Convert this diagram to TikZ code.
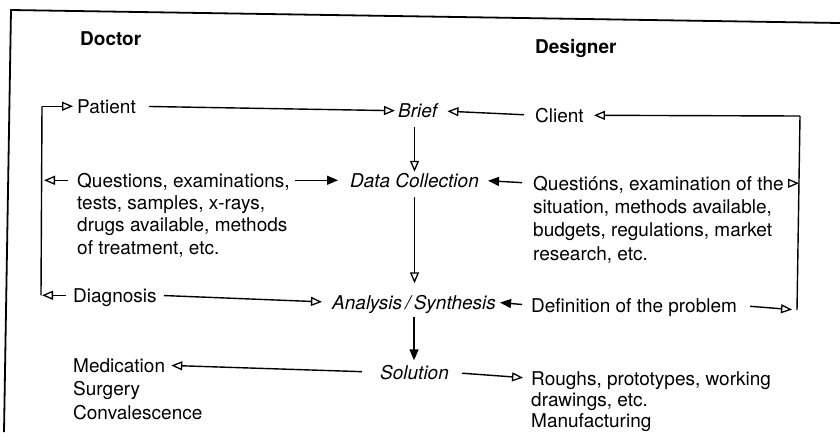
\documentclass[tikz,border=0pt]{standalone}
\usepackage{fontspec}
\setmainfont{TeX Gyre Heros}
\usetikzlibrary{arrows.meta}
\begin{document}
\begin{tikzpicture}[x=1pt,y=-1pt,
  tb/.style={anchor=base west,inner sep=0pt,font=\fontsize{19}{23}\selectfont},
  txt/.style={tb,text height=13.5pt,text depth=0pt},
  itx/.style={txt,font=\fontsize{19}{23}\selectfont\itshape},
  hdr/.style={txt,font=\fontsize{19}{23}\selectfont\bfseries},
  conn/.style={line width=1.4pt},
  oarr/.style={conn,-{Triangle[open,length=11pt,width=9pt,line width=1.3pt]}},
  farr/.style={conn,-{Triangle[length=11pt,width=9pt]}},
  framel/.style={line width=1.8pt}]
\useasboundingbox (0,0) rectangle (840,432);
% frame
\draw[framel] (840,23) -- (11,10) -- (4,432);
% headers
\node[hdr] (doctor) at (80,45) {Doctor};
\node[hdr] (designer) at (535,53) {Designer};
% left column
\node[txt] (patient) at (77,113) {Patient};
\node[txt] (dq1) at (77,187) {Questions, examinations,};
\node[tb,align=left,font=\fontsize{19}{22.5}\selectfont] (dq2) at (77,254) {tests, samples, x-rays,\\drugs available, methods\\of treatment, etc.};
\node[txt] (diagnosis) at (73,302) {Diagnosis};
\node[txt] (med1) at (73,372) {Medication};
\node[tb,align=left,font=\fontsize{19}{24}\selectfont] (med2) at (73,419) {Surgery\\Convalescence};
% centre column
\node[itx] (brief) at (398,117.5) {Brief};
\node[itx] (datacoll) at (350,187) {Data Collection};
\node[itx] (analysis) at (332,309) {Analysis\,/\,Synthesis};
\node[itx] (solution) at (380,379) {Solution};
% right column
\node[txt] (client) at (535,122) {Client};
\node[txt] (gq1) at (533,190) {Questións, examination of the};
\node[tb,align=left,font=\fontsize{19}{23.3}\selectfont] (gq2) at (533,260) {situation, methods available,\\budgets, regulations, market\\research, etc.};
\node[txt] (definition) at (531,312) {Definition of the problem};
\node[txt] (r1) at (531,385) {Roughs, prototypes, working};
\node[tb,align=left,font=\fontsize{19}{21}\selectfont] (r2) at (531,427) {drawings, etc.\\Manufacturing};
% main connectors
\draw[oarr,shorten <=13pt,shorten >=3pt] (patient.east) -- (brief.west);
\draw[oarr,shorten <=11pt,shorten >=10pt] (client.west) -- (brief.east);
\draw[oarr,shorten <=9.5pt,shorten >=1.5pt] (datacoll.north |- brief.south) -- (datacoll.north);
\draw[farr,shorten <=5pt,shorten >=12pt] (dq1.east) -- (datacoll.west);
\draw[farr,shorten <=11pt,shorten >=9pt] (gq1.west) -- (datacoll.east);
\draw[oarr,shorten <=10pt,shorten >=12pt] (datacoll.south) -- (datacoll.south |- analysis.north);
\draw[oarr,shorten <=7pt,shorten >=10pt] (diagnosis.east) -- (analysis.west);
\draw[farr,shorten <=9pt,shorten >=4pt] (definition.west) -- (analysis.east);
\draw[farr,shorten <=8pt,shorten >=5pt] (analysis.south) -- (analysis.south |- solution.north);
\draw[oarr,shorten <=18pt,shorten >=6pt] (solution.west) -- (med1.east);
\draw[oarr,shorten <=13pt,shorten >=8pt] (solution.east) -- (r1.west);
% left feedback loop
\path (patient.west) ++(-35,0) coordinate (L1);
\path (diagnosis.west) ++(-32,0) coordinate (L2);
\draw[conn] (L1) -- (L2);
\draw[oarr,shorten >=4pt] (L1) -- (patient.west);
\draw[oarr,shorten <=9pt,shorten >=2pt] (dq1.west) -- (dq1.west -| L1);
\draw[oarr,shorten <=7pt,shorten >=1pt] (diagnosis.west) -- (L2);
% right feedback loop
\coordinate (R1) at (800,116);
\coordinate (R2) at (797,310);
\draw[conn] (R2) -- (R1);
\draw[oarr,shorten >=10pt] (R1) -- (client.east);
\draw[oarr,shorten <=5pt,shorten >=1pt] (gq1.east) -- (gq1.east -| R1);
\draw[oarr,shorten <=13pt,shorten >=5pt] (definition.east) -- (R2);
\end{tikzpicture}
\end{document}
